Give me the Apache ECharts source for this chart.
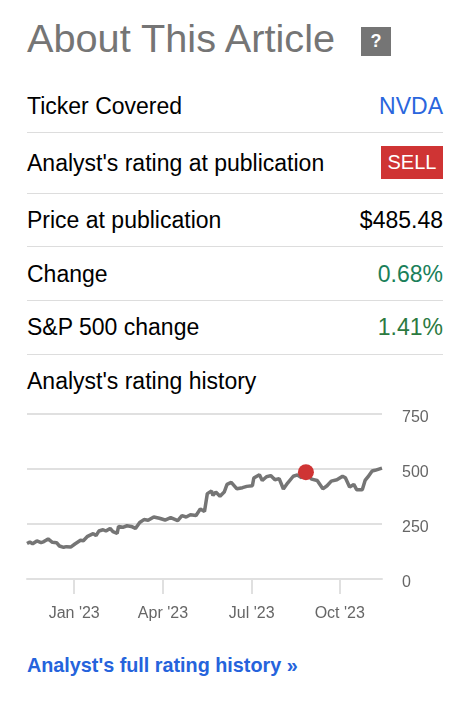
<!DOCTYPE html>
<html>
<head>
<meta charset="utf-8">
<title>About This Article</title>
<script src="https://cdn.jsdelivr.net/npm/echarts@6/dist/echarts.min.js"></script>
<style>
  html, body { margin: 0; padding: 0; background: #fff; }
  body { width: 474px; height: 715px; position: relative; overflow: hidden; font-family: "Liberation Sans", Arial, sans-serif; color: #000; }
  .t { position: absolute; white-space: nowrap; font-size: 23px; line-height: 26px; }
  .r { right: 31px; }
  .l { left: 27px; }
  .rule { position: absolute; left: 27px; width: 416px; height: 1px; background: #ddd; }
  #container { position: absolute; left: 0; top: 400px; width: 474px; height: 240px; }
</style>
</head>
<body>
  <div class="t l" style="top:15px;font-size:39.7px;line-height:46px;color:#757575">About This Article</div>
  <div style="position:absolute;left:361px;top:27px;width:30px;height:29px;background:#757575;color:#fff;font-weight:bold;font-size:18px;line-height:28px;text-align:center">?</div>

  <div class="t l" style="top:93px">Ticker Covered</div>
  <div class="t r" style="top:93px;color:#2a66dd">NVDA</div>
  <div class="rule" style="top:132px"></div>

  <div class="t l" style="top:150px">Analyst's rating at publication</div>
  <div style="position:absolute;left:381px;top:146px;width:62px;height:33px;background:#cf3434;color:#fff;font-size:20px;line-height:32px;text-align:center">SELL</div>
  <div class="rule" style="top:193px"></div>

  <div class="t l" style="top:207px">Price at publication</div>
  <div class="t r" style="top:207px">$485.48</div>
  <div class="rule" style="top:246px"></div>

  <div class="t l" style="top:261px">Change</div>
  <div class="t r" style="top:261px;color:#1a7f5a">0.68%</div>
  <div class="rule" style="top:300px"></div>

  <div class="t l" style="top:314px">S&amp;P 500 change</div>
  <div class="t r" style="top:314px;color:#2c7a3f">1.41%</div>
  <div class="rule" style="top:354px"></div>

  <div class="t l" style="top:368px">Analyst's rating history</div>

  <div id="container"></div>

  <div class="t l" style="top:652px;font-size:19.8px;font-weight:bold;color:#2563dc">Analyst's full rating history »</div>

<script>
// x is the trading session counted from the left edge of the chart
var sessions = [0, 2, 4, 7, 10, 12, 15, 18, 21, 23, 26, 28, 31, 34, 38, 40, 43, 47, 49, 51, 54, 56, 59, 61, 64, 65, 68, 71, 74, 77, 80, 83, 86, 90, 94, 98, 102, 107, 110, 113, 116, 120, 123, 126, 128, 131, 132, 134, 137, 140, 142, 145, 149, 153, 156, 160, 161, 165, 167, 170, 173, 176, 179, 182, 185, 186, 189, 192, 195, 198, 202, 206, 210, 213, 216, 220, 224, 226, 229, 232, 234, 238, 240, 242, 245, 247, 252];
var prices = [161, 168, 160, 173, 165, 170, 182, 167, 165, 150, 144, 147, 145, 159, 176, 174, 194, 206, 197, 218, 224, 218, 230, 215, 207, 239, 235, 242, 239, 230, 257, 270, 267, 282, 276, 268, 279, 265, 288, 282, 292, 289, 318, 307, 388, 400, 380, 395, 376, 395, 430, 439, 410, 415, 421, 424, 459, 474, 448, 465, 470, 451, 456, 409, 436, 433, 467, 473, 460, 485, 454, 448, 410, 424, 445, 451, 467, 460, 418, 430, 406, 406, 448, 464, 491, 494, 504];
var publication = [198, 485.48];
var tickSessions = [33.5, 96.5, 159.5, 222];
var tickLabels = ["Jan '23", "Apr '23", "Jul '23", "Oct '23"];

var dom = document.getElementById('container');
var myChart = echarts.init(dom, null, { renderer: 'canvas' });

var labelFont = { color: '#666', fontSize: 16, fontFamily: '"Liberation Sans", Arial, sans-serif' };

var option = {
  animation: false,
  grid: { left: 27, top: 14, width: 355, height: 165 },
  xAxis: {
    type: 'value',
    min: 0,
    max: 252,
    splitLine: { show: false },
    axisLine: { show: true, lineStyle: { color: '#e0e0e0', width: 2 } },
    axisTick: { show: true, customValues: tickSessions, length: 15, lineStyle: { color: '#e0e0e0', width: 2 } },
    axisLabel: Object.assign({
      customValues: tickSessions,
      margin: 27,
      formatter: function (v) { return tickLabels[tickSessions.indexOf(v)]; }
    }, labelFont)
  },
  yAxis: {
    type: 'value',
    position: 'right',
    min: 0,
    max: 750,
    interval: 250,
    axisLine: { show: false },
    axisTick: { show: false },
    splitLine: { lineStyle: { color: '#e0e0e0', width: 2 } },
    axisLabel: Object.assign({ margin: 20, verticalAlign: 'top', lineHeight: 8 }, labelFont)
  },
  series: [{
    type: 'line',
    silent: true,
    symbol: 'none',
    lineStyle: { color: '#757575', width: 3.5 },
    data: sessions.map(function (s, i) { return [s, prices[i]]; }),
    z: 2
  }, {
    type: 'scatter',
    silent: true,
    symbol: 'circle',
    symbolSize: 16,
    itemStyle: { color: '#cf3434', opacity: 1 },
    data: [publication],
    z: 3
  }]
};

myChart.setOption(option);
</script>
</body>
</html>
